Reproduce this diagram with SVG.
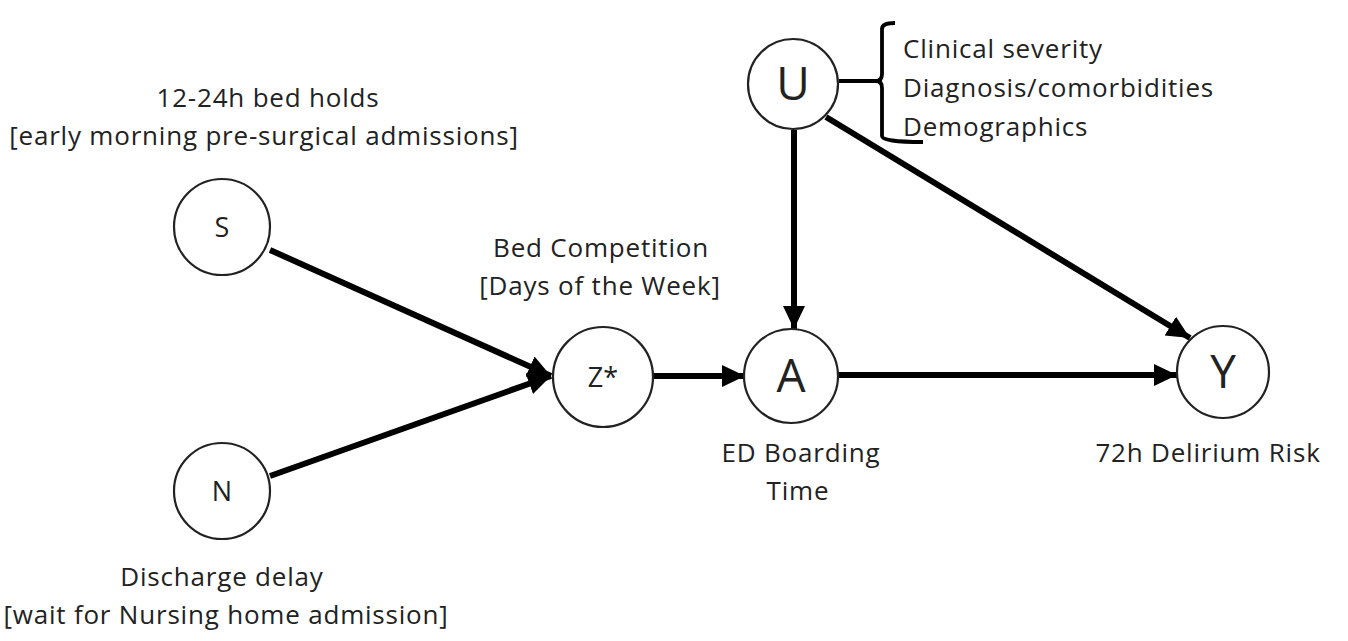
<svg xmlns="http://www.w3.org/2000/svg" width="1348" height="641" viewBox="0 0 1348 641">
<style>
.node circle{fill:#fff;stroke:#222;stroke-width:2.2}
.lbl{font-family:"Open Sans","Noto Sans",sans-serif;font-size:26px;letter-spacing:0.8px;fill:#222;text-anchor:middle}
.sm{font-family:"Open Sans","Noto Sans",sans-serif;font-size:27px;fill:#222;text-anchor:middle}
.big{font-family:"Open Sans","Noto Sans",sans-serif;font-size:46px;fill:#222;text-anchor:middle}
.edge{stroke:#000;stroke-width:6;fill:none;marker-end:url(#ah)}
.brace{stroke:#000;stroke-width:3.8;fill:none}
</style>
<defs>
<marker id="ah" markerUnits="userSpaceOnUse" markerWidth="26" markerHeight="26" viewBox="0 0 26 26" refX="23" refY="13" orient="auto">
<path d="M0,2 L23,13 L0,24 Z" fill="#000"/>
</marker>
</defs>
<rect width="1348" height="641" fill="#fff"/>
<g id="connectors">
<line class="edge" x1="270" y1="250" x2="551" y2="376"/>
<line class="edge" x1="270" y1="476" x2="551" y2="376"/>
<line class="edge" x1="653" y1="376" x2="745" y2="376"/>
<line class="edge" x1="838" y1="375" x2="1177" y2="375"/>
<line class="edge" x1="794" y1="130" x2="794" y2="329"/>
<line class="edge" x1="826" y1="117" x2="1190" y2="338"/>
</g>
<g id="brace">
<path class="brace" d="M839,81 L876,81 Q882,81 882,74 L882,29 Q882,23 895,23"/>
<path class="brace" d="M876,81 Q882,81 882,88 L882,136 Q882,142 923,142"/>
</g>
<g id="S" class="node"><circle cx="222" cy="227" r="48"/><text class="sm" x="222" y="237">S</text></g>
<g id="N" class="node"><circle cx="222" cy="491" r="48"/><text class="sm" x="222" y="501">N</text></g>
<g id="Z" class="node"><circle cx="603" cy="377" r="50"/><text class="sm" x="603" y="387">Z*</text></g>
<g id="A" class="node"><circle cx="791" cy="376" r="47"/><text class="big" x="791" y="392">A</text></g>
<g id="U" class="node"><circle cx="793" cy="84" r="45"/><text class="big" x="793" y="100">U</text></g>
<g id="Y" class="node"><circle cx="1223" cy="372" r="46"/><text class="big" x="1223" y="388">Y</text></g>
<g id="labels">
<text class="lbl" x="268" y="107">12-24h bed holds</text>
<text class="lbl" x="264" y="145">[early morning pre-surgical admissions]</text>
<text class="lbl" x="601" y="257">Bed Competition</text>
<text class="lbl" x="600" y="295">[Days of the Week]</text>
<text class="lbl" x="801" y="462">ED Boarding</text>
<text class="lbl" x="798" y="500">Time</text>
<text class="lbl" x="1208" y="462">72h Delirium Risk</text>
<text class="lbl" x="222" y="586">Discharge delay</text>
<text class="lbl" x="226" y="624">[wait for Nursing home admission]</text>
<text class="lbl" x="903" y="58" style="text-anchor:start">Clinical severity</text>
<text class="lbl" x="903" y="97" style="text-anchor:start">Diagnosis/comorbidities</text>
<text class="lbl" x="903" y="136" style="text-anchor:start">Demographics</text>
</g>
</svg>
